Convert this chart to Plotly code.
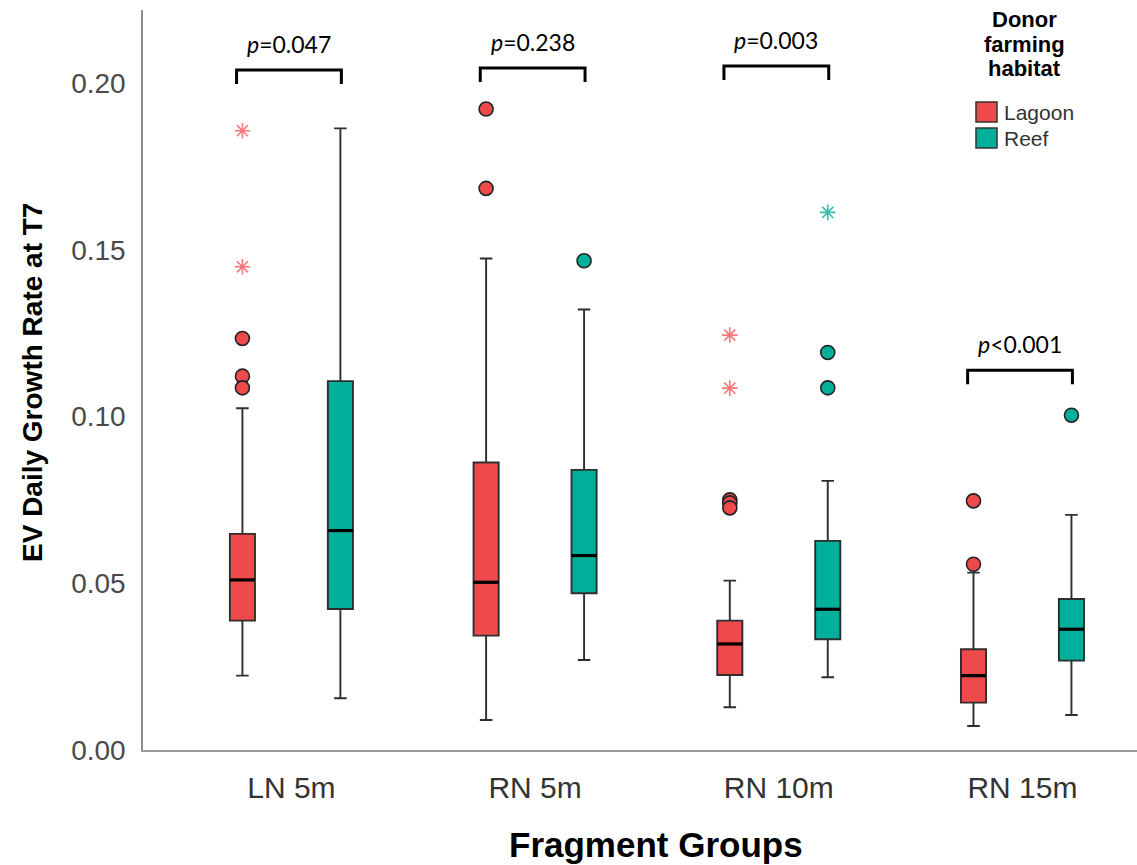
import plotly.graph_objects as go

# ---- data -------------------------------------------------------------
groups = ["LN 5m", "RN 5m", "RN 10m", "RN 15m"]
habitats = ["Lagoon", "Reef"]

lagoon_lower = [0.0223, 0.0090, 0.0128, 0.0072]
lagoon_q1 = [0.0388, 0.0343, 0.0225, 0.0142]
lagoon_median = [0.0510, 0.0503, 0.0318, 0.0223]
lagoon_q3 = [0.0648, 0.0862, 0.0388, 0.0302]
lagoon_upper = [0.1025, 0.1474, 0.0508, 0.0532]
lagoon_outliers = [[0.1234, 0.1121, 0.1086], [0.1922, 0.1684],
                   [0.0750, 0.0741, 0.0726], [0.0747, 0.0557]]
lagoon_extremes = [[0.1857, 0.1449], [], [0.1244, 0.1085], []]

reef_lower = [0.0155, 0.0270, 0.0218, 0.0105]
reef_q1 = [0.0423, 0.0470, 0.0332, 0.0268]
reef_median = [0.0658, 0.0583, 0.0422, 0.0362]
reef_q3 = [0.1106, 0.0840, 0.0627, 0.0453]
reef_upper = [0.1864, 0.1321, 0.0807, 0.0705]
reef_outliers = [[], [0.1467], [0.1192, 0.1086], [0.1004]]
reef_extremes = [[], [], [0.1612], []]

p_labels = ["<i>p</i>=0.047", "<i>p</i>=0.238", "<i>p</i>=0.003", "<i>p</i><0.001"]
bracket_top = [0.2039, 0.2045, 0.2051, 0.1139]

y_ticks = [0.00, 0.05, 0.10, 0.15, 0.20]

# ---- styling ----------------------------------------------------------
fill_colors = {"Lagoon": "#EE4A4B", "Reef": "#00B09B"}
star_colors = {"Lagoon": "#F27A7A", "Reef": "#33C0AE"}
offsets = {"Lagoon": -0.201, "Reef": 0.201}
BOX_W = 0.103

SANS = "Liberation Sans, Arial, sans-serif"

series = {
    "Lagoon": (lagoon_lower, lagoon_q1, lagoon_median, lagoon_q3, lagoon_upper,
               lagoon_outliers, lagoon_extremes),
    "Reef": (reef_lower, reef_q1, reef_median, reef_q3, reef_upper,
             reef_outliers, reef_extremes),
}

fig = go.Figure()

for hab in habitats:
    lo, q1, med, q3, up, outs, ext = series[hab]
    for i, g in enumerate(groups):
        pos = i + offsets[hab]
        fig.add_trace(go.Box(
            x=[pos], q1=[q1[i]], median=[med[i]], q3=[q3[i]],
            lowerfence=[lo[i]], upperfence=[up[i]],
            width=BOX_W, whiskerwidth=0.5, boxpoints=False,
            fillcolor=fill_colors[hab], line=dict(color="#2e2e2e", width=1.9),
            name=f"{hab} {g}", showlegend=False,
        ))
        # heavier median bar
        fig.add_trace(go.Scatter(
            x=[pos - BOX_W / 2, pos + BOX_W / 2], y=[med[i], med[i]],
            mode="lines", line=dict(color="black", width=3.2),
            showlegend=False, hoverinfo="skip",
        ))
        if outs[i]:
            fig.add_trace(go.Scatter(
                x=[pos] * len(outs[i]), y=outs[i], mode="markers",
                marker=dict(symbol="circle", size=14, color=fill_colors[hab],
                            line=dict(color="#222222", width=1.6)),
                showlegend=False,
            ))
        if ext[i]:
            fig.add_trace(go.Scatter(
                x=[pos] * len(ext[i]), y=ext[i], mode="markers",
                marker=dict(symbol="asterisk-open", size=13, color=star_colors[hab],
                            line=dict(color=star_colors[hab], width=1.6)),
                showlegend=False,
            ))

# significance brackets and p-values
LEG = 0.0042
for i, (lab, top) in enumerate(zip(p_labels, bracket_top)):
    x0 = i + offsets["Lagoon"] - 0.024
    x1 = i + offsets["Reef"] + 0.004
    fig.add_shape(type="path",
                  path=f"M {x0},{top - LEG} L {x0},{top} L {x1},{top} L {x1},{top - LEG}",
                  xref="x", yref="y", line=dict(color="black", width=3))
    fig.add_annotation(x=(x0 + x1) / 2, y=top, xref="x", yref="y",
                       text=lab, showarrow=False, yanchor="middle", yshift=26,
                       font=dict(family="Lato, Open Sans, sans-serif", size=23, color="black"))

# ---- layout -----------------------------------------------------------
L, R, T, B = 143, 0, 10, 115
W, H = 1137, 865
PW, PH = W - L - R, H - T - B


def px_x(p):
    return (p - L) / PW


def px_y(p):
    return (H - B - p) / PH


fig.update_layout(
    width=W, height=H,
    margin=dict(l=L, r=R, t=T, b=B),
    plot_bgcolor="white", paper_bgcolor="white",
    showlegend=False,
    xaxis=dict(
        range=[-0.609, 3.470], tickvals=list(range(len(groups))), ticktext=groups,
        showgrid=False, zeroline=False, showline=True, linecolor="#999999",
        linewidth=2, ticks="", ticklabelstandoff=10,
        tickfont=dict(family=SANS, size=30, color="#333333"),
    ),
    yaxis=dict(
        range=[0, 0.2219], tickvals=y_ticks, tickformat=".2f",
        showgrid=False, zeroline=False, showline=True, linecolor="#8c8c8c",
        linewidth=1.5, ticks="", ticklabelstandoff=10,
        tickfont=dict(family=SANS, size=28, color="#4a4a4a"),
    ),
)

# axis titles
fig.add_annotation(x=px_x(32), y=px_y(383), xref="paper", yref="paper",
                   text="EV Daily Growth Rate at T7", textangle=-90, showarrow=False,
                   xanchor="center", yanchor="middle",
                   font=dict(family=SANS, size=28, color="black", weight="bold"))
fig.add_annotation(x=px_x(656), y=px_y(845), xref="paper", yref="paper",
                   text="Fragment Groups", showarrow=False,
                   xanchor="center", yanchor="middle",
                   font=dict(family=SANS, size=35, color="black", weight="bold"))

# legend: title and colour keys
for line_text, cy in zip(["Donor", "farming", "habitat"], [20, 44.5, 69]):
    fig.add_annotation(x=px_x(1024), y=px_y(cy), xref="paper", yref="paper",
                       text=line_text, showarrow=False, xanchor="center", yanchor="middle",
                       font=dict(family=SANS, size=22, color="black", weight="bold"))
for hab, top in zip(habitats, [102, 128]):
    fig.add_shape(type="rect", xref="paper", yref="paper",
                  x0=px_x(976), x1=px_x(997), y0=px_y(top + 20), y1=px_y(top),
                  fillcolor=fill_colors[hab], line=dict(color="#333333", width=1.5))
    fig.add_annotation(x=px_x(1002), y=px_y(top + 10), xref="paper", yref="paper",
                       text=hab, showarrow=False, xanchor="left", yanchor="middle",
                       font=dict(family=SANS, size=21, color="#333333"))

fig.write_html("out.html")
